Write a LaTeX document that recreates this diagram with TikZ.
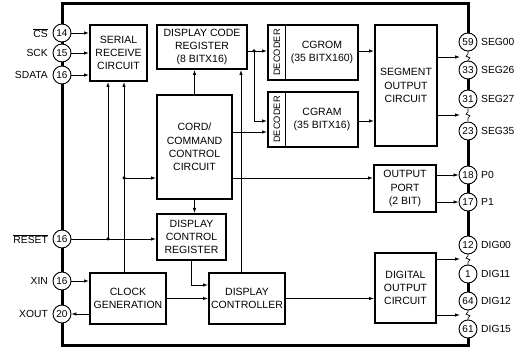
\documentclass[tikz,border=0pt]{standalone}
\usepackage{fontspec}
\setmainfont{Liberation Sans}
\usetikzlibrary{arrows.meta}
\tikzset{
  blk/.style={draw, line width=2pt, align=center, inner sep=0pt, font=\fontsize{10.5}{13.3}\selectfont},
  pinc/.style={draw, circle, line width=0.9pt, fill=white, inner sep=0pt, minimum size=18pt, font=\fontsize{10}{11}\selectfont},
  lbl/.style={font=\fontsize{10.3}{12}\selectfont, inner sep=0pt},
  arr/.style={line width=0.8pt, -{Latex[length=5pt,width=3.5pt]}},
  brd/.style={line width=3pt},
  dot/.style={circle, fill=black, inner sep=0pt, minimum size=3.5pt},
  sq/.style={line width=0.7pt},
}
\begin{document}
\begin{tikzpicture}[x=1pt,y=-1pt]
\useasboundingbox (0,0) rectangle (523,350);
% border
\draw[brd] (468,42) -- (468,4) -- (62,4) -- (62,346) -- (468,346) -- (468,329);
\draw[brd] (468,70) -- (468,99);
\draw[brd] (468,131) -- (468,245);
\draw[brd] (468,274) -- (468,301);
% squiggles
\foreach \yy in {57,115,259,315}{
  \draw[sq] (468,\yy-6) -- (468,\yy-3) -- (466,\yy-1) -- (470,\yy+1) -- (468,\yy+3) -- (468,\yy+6);
}
% blocks
\node[blk, minimum width=57pt, minimum height=56pt] (serial) at (118.5,53) {SERIAL\\RECEIVE\\CIRCUIT};
\node[blk, minimum width=90pt, minimum height=44pt] (dcr) at (202,47) {DISPLAY CODE\\REGISTER\\(8 BITX16)};
\node[blk, minimum width=90pt, minimum height=55pt] (cgrom) at (313,52.5) {};
\node[blk, minimum width=90pt, minimum height=55pt] (cgram) at (313,119.5) {};
\draw[line width=0.9pt] (cgrom.north west) ++(18,0) -- ++(0,55);
\draw[line width=0.9pt] (cgram.north west) ++(18,0) -- ++(0,55);
\node[lbl, rotate=90, font=\fontsize{9.3}{10}\selectfont] (dec1) at (277,52.5) {DECODER};
\node[lbl, rotate=90, font=\fontsize{9.3}{10}\selectfont] (dec2) at (277,119.5) {DECODER};
\node[lbl, align=center, font=\fontsize{10.5}{13.3}\selectfont] (t1) at (322,52.5) {CGROM\\(35 BITX160)};
\node[lbl, align=center, font=\fontsize{10.5}{13.3}\selectfont] (t2) at (322,119.5) {CGRAM\\(35 BITX16)};
\node[blk, minimum width=62pt, minimum height=121pt] (seg) at (406,85.5) {SEGMENT\\OUTPUT\\CIRCUIT};
\node[blk, minimum width=75pt, minimum height=104pt] (cord) at (194.5,147) {CORD/\\COMMAND\\CONTROL\\CIRCUIT};
\node[blk, minimum width=62pt, minimum height=47pt] (oport) at (405,188.5) {OUTPUT\\PORT\\(2 BIT)};
\node[blk, minimum width=69pt, minimum height=46pt] (dcreg) at (191.5,237) {DISPLAY\\CONTROL\\REGISTER};
\node[blk, minimum width=76pt, minimum height=51pt] (clk) at (128,298.5) {CLOCK\\GENERATION};
\node[blk, minimum width=76pt, minimum height=51pt] (disp) at (247,298.5) {DISPLAY\\CONTROLLER};
\node[blk, minimum width=61pt, minimum height=70pt] (dig) at (405.5,288) {DIGITAL\\OUTPUT\\CIRCUIT};
% left pins
\node[pinc] (cs) at (62,33) {14};
\node[pinc] (sck) at (62,53) {15};
\node[pinc] (sdata) at (62,75) {16};
\node[pinc] (reset) at (62,239) {16};
\node[pinc] (xin) at (62,281) {16};
\node[pinc] (xout) at (62,314) {20};
\node[lbl, anchor=east] (lcs) at (48,33) {$\overline{\mbox{CS}}$};
\node[lbl, anchor=east] (lsck) at (48,53) {SCK};
\node[lbl, anchor=east] (lsdata) at (48,75) {SDATA};
\node[lbl, anchor=east] (lreset) at (48,239) {$\overline{\mbox{RESET}}$};
\node[lbl, anchor=east] (lxin) at (48,281) {XIN};
\node[lbl, anchor=east] (lxout) at (48,314) {XOUT};
% right pins
\foreach \nm/\yy/\num/\txt in {s0/42/59/SEG00, s26/70/33/SEG26, s27/99/31/SEG27, s35/131/23/SEG35, p0/175/18/P0, p1/202/17/P1, d0/245/12/DIG00, d11/274/1/DIG11, d12/301/64/DIG12, d15/329/61/DIG15}{
  \node[pinc] (\nm) at (468,\yy) {\num};
  \node[lbl, anchor=west] (l\nm) at (481,\yy) {\txt};
}
% junction coordinates
\coordinate (j1) at (108,239);
\coordinate (j2) at (124,178);
\coordinate (j3) at (254,51);
\coordinate (j4) at (254,121);
\coordinate (y132) at (0,132);
\coordinate (x241) at (241,0);
\coordinate (y285) at (0,285);
\coordinate (m1) at (460,57);
\coordinate (m2) at (460,115);
\coordinate (m3) at (460,259);
\coordinate (m4) at (460,315);
% left side connections
\draw[arr] (cs.east) -- (serial.west |- cs.east);
\draw[arr] (sck.east) -- (serial.west |- sck.east);
\draw[arr] (sdata.east) -- (serial.west |- sdata.east);
\draw[arr] (reset.east) -- (dcreg.west |- reset.east);
\draw[arr] (j1) -- (j1 |- serial.south);
\node[dot] at (j1) {};
\draw[arr] (xin.east) -- (clk.west |- xin.east);
\draw[arr] (clk.west |- xout.east) -- (xout.east);
\draw[arr] (j2 |- clk.north) -- (j2 |- serial.south);
\draw[arr] (j2) -- (cord.west |- j2);
\node[dot] at (j2) {};
% center
\draw[arr] (cord.north) -- (cord.north |- dcr.south);
\draw[arr] (x241 |- disp.north) -- (x241 |- dcr.south);
\draw[arr] (j3 -| dcr.east) -- (j3 -| cgrom.west);
\draw[arr] (j3) -- (j4) -- (j4 -| cgram.west);
\node[dot] at (j3) {};
\draw[arr] (cord.east |- y132) -- (cgram.west |- y132);
\draw[arr] (cord.east |- j2) -- (oport.west |- j2);
\draw[arr] (cgrom.east |- j3) -- (seg.west |- j3);
\draw[arr] (cgram.east |- j4) -- (seg.west |- j4);
\draw[arr] (cord.south) -- (cord.south |- dcreg.north);
\draw[arr] (dcreg.south) |- (disp.west |- y285);
\draw[arr] (clk.east) -- (disp.west);
\draw[arr] (disp.east) -- (dig.west |- disp.east);
% outputs
\draw[arr] (seg.east |- m1) -- (m1);
\draw[arr] (seg.east |- m2) -- (m2);
\draw[arr] (oport.east |- p0) -- (p0.west);
\draw[arr] (oport.east |- p1) -- (p1.west);
\draw[arr] (dig.east |- m3) -- (m3);
\draw[arr] (dig.east |- m4) -- (m4);
\end{tikzpicture}
\end{document}
